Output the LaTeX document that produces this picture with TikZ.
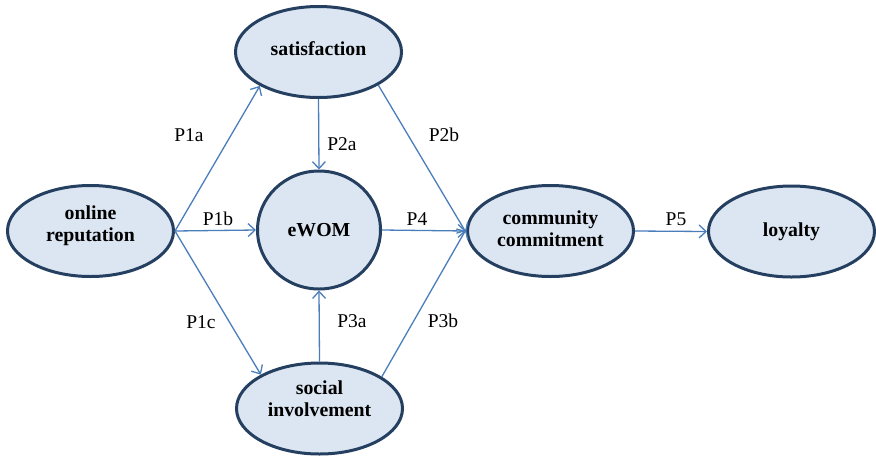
\documentclass[tikz,border=0pt]{standalone}
\usepackage{fontspec}
\setmainfont{Liberation Serif}
\usetikzlibrary{shapes.geometric,arrows.meta}
\definecolor{boxfill}{HTML}{DCE6F2}
\definecolor{boxline}{HTML}{243F60}
\definecolor{linkblue}{HTML}{4A7EBB}
% lift the label of a construct without changing the size of its box
\newcommand{\liftlabel}[2]{\raisebox{#1}[\height][\depth]{\begin{tabular}{@{}c@{}}#2\end{tabular}}}
\tikzset{
  construct/.style={ellipse, draw=boxline, fill=boxfill, line width=3pt,
    inner sep=0pt, minimum width=166pt, minimum height=91pt, align=center,
    font=\fontsize{19.8}{22}\selectfont\bfseries},
  link/.style={draw=linkblue, line width=1.3pt,
    -{Straight Barb[length=7pt,width=13pt,line width=1.3pt]}},
  plabel/.style={font=\fontsize{19.5}{22}\selectfont, inner sep=0pt}
}
\begin{document}
\begin{tikzpicture}[x=1pt,y=-1pt]
  \useasboundingbox (0,0) rectangle (876,459);

  % constructs
  \node[construct] (rep)  at (90.5,231)  {\liftlabel{5pt}{online\\reputation}};
  \node[construct] (sat)  at (318.5,52)  {\liftlabel{1pt}{satisfaction}};
  \node[construct, minimum width=123pt, minimum height=118pt] (ewom) at (319,230) {eWOM};
  \node[construct] (com)  at (550.5,231) {\liftlabel{0pt}{community\\commitment}};
  \node[construct] (loy)  at (791.5,231.5) {loyalty};
  \node[construct] (soc)  at (319.5,408.5) {\liftlabel{7pt}{social\\involvement}};

  % hypothesised paths
  \draw[link] (rep.east) -- (sat.210);
  \draw[link] (rep.east) -- (ewom.west);
  \draw[link] (rep.east) -- (soc.150);
  \draw[link] (sat.south) -- (ewom.north);
  \draw[link] (sat.-29) -- (com.181);
  \draw[link] (ewom.east) -- (com.west);
  \draw[link] (soc.27) -- (com.179);
  \draw[link] (soc.north) -- (ewom.south);
  \draw[link] (com.east) -- (loy.west);

  % path labels
  \node[plabel] (l1a) at (189,135) {P1a};
  \node[plabel] (l1b) at (218,219) {P1b};
  \node[plabel] (l1c) at (201,322) {P1c};
  \node[plabel] (l2a) at (342,144) {P2a};
  \node[plabel] (l2b) at (444,135) {P2b};
  \node[plabel] (l4)  at (417,219) {P4};
  \node[plabel] (l5)  at (676,219) {P5};
  \node[plabel] (l3a) at (352,321) {P3a};
  \node[plabel] (l3b) at (443,321) {P3b};
\end{tikzpicture}
\end{document}
